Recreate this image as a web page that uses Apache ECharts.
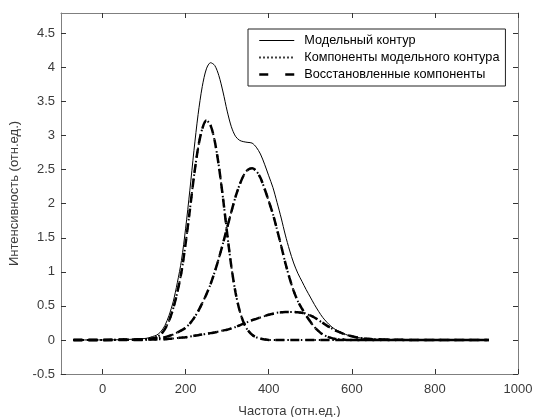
<!DOCTYPE html>
<html>
<head>
<meta charset="utf-8">
<script src="https://cdn.jsdelivr.net/npm/echarts@6/dist/echarts.min.js"></script>
<style>
  html, body { margin: 0; padding: 0; background: #fff; }
  #chart { width: 535px; height: 417px; }
</style>
</head>
<body>
<div id="chart"></div>
<script>
  // частоты (отн.ед.)
  const freq = [-70, 0, 50,
    100, 110, 120, 130, 140, 150, 160, 170, 180, 190,
    200, 210, 220, 230, 240, 250, 260, 270, 280, 290,
    300, 310, 320, 330, 340, 350, 360, 370, 380, 390,
    400, 410, 420, 430, 440, 450, 460, 470, 480, 490,
    500, 510, 520, 530, 540, 550, 560, 570, 580, 590,
    600, 610, 620, 630, 640, 650,
    700, 750, 800, 850, 930]

  const modelContour = [0, 0, 0.005,
    0.02, 0.03, 0.05, 0.07, 0.12, 0.21, 0.36, 0.56, 0.84, 1.17,
    1.64, 2.19, 2.78, 3.31, 3.72, 3.98, 4.07, 4.03, 3.88, 3.64,
    3.36, 3.13, 2.99, 2.93, 2.91, 2.9, 2.89, 2.83, 2.73, 2.58,
    2.41, 2.24, 2.02, 1.79, 1.54, 1.32, 1.13, 0.98, 0.86, 0.74,
    0.63, 0.52, 0.42, 0.33, 0.26, 0.2, 0.155, 0.125, 0.095, 0.07,
    0.055, 0.04, 0.03, 0.022, 0.016, 0.012,
    0.004, 0, 0, 0, 0]

  const comp1 = [0, 0, 0,
    0, 0.01, 0.02, 0.04, 0.08, 0.16, 0.28, 0.46, 0.7, 1.0,
    1.42, 1.9, 2.4, 2.82, 3.1, 3.22, 3.15, 2.92, 2.55, 2.08,
    1.56, 1.08, 0.7, 0.43, 0.25, 0.14, 0.075, 0.04, 0.02, 0.008,
    0, 0, 0, 0, 0, 0, 0, 0, 0, 0,
    0, 0, 0, 0, 0, 0, 0, 0, 0, 0,
    0, 0, 0, 0, 0, 0,
    0, 0, 0, 0, 0]

  const comp2 = [0, 0, 0.005,
    0.01, 0.015, 0.02, 0.025, 0.03, 0.04, 0.06, 0.08, 0.11, 0.14,
    0.18, 0.24, 0.32, 0.42, 0.54, 0.67, 0.82, 1.0, 1.2, 1.42,
    1.65, 1.88, 2.1, 2.28, 2.42, 2.5, 2.52, 2.48, 2.38, 2.22,
    2.04, 1.85, 1.62, 1.38, 1.13, 0.91, 0.72, 0.57, 0.46, 0.36,
    0.27, 0.19, 0.13, 0.08, 0.05, 0.03, 0.015, 0.01, 0.005, 0,
    0, 0, 0, 0, 0, 0,
    0, 0, 0, 0, 0]

  const comp3 = [0, 0, 0.002,
    0.005, 0.006, 0.007, 0.008, 0.009, 0.01, 0.016, 0.022, 0.028, 0.034,
    0.04, 0.05, 0.06, 0.07, 0.08, 0.09, 0.1, 0.11, 0.125, 0.14,
    0.15, 0.17, 0.19, 0.215, 0.24, 0.265, 0.29, 0.31, 0.33, 0.35,
    0.37, 0.385, 0.4, 0.405, 0.41, 0.41, 0.41, 0.405, 0.4, 0.38,
    0.36, 0.33, 0.29, 0.25, 0.21, 0.175, 0.14, 0.115, 0.09, 0.07,
    0.055, 0.04, 0.03, 0.022, 0.016, 0.012,
    0.004, 0, 0, 0, 0]

  const xTicks = [0, 200, 400, 600, 800, 1000]
  const yTicks = [-0.5, 0, 0.5, 1, 1.5, 2, 2.5, 3, 3.5, 4, 4.5]

  const NAME_TOTAL = 'Модельный контур'
  const NAME_COMP = 'Компоненты модельного контура'
  const NAME_REST = 'Восстановленные компоненты'

  const FONT = '"Liberation Sans", Arial, sans-serif'
  const AXIS_COLOR = '#7f7f7f'
  const TEXT_COLOR = '#3a3a3a'

  function pairs(ys) {
    return freq.map((x, i) => [x, ys[i]])
  }

  function lineSeries(name, ys, lineStyle, z) {
    return {
      name: name,
      type: 'line',
      data: pairs(ys),
      symbol: 'none',
      showSymbol: false,
      smooth: 0.3,
      animation: false,
      silent: true,
      z: z,
      itemStyle: {color: '#000'},
      lineStyle: Object.assign({color: '#000'}, lineStyle)
    }
  }

  const dotted = {width: 2, type: [1.5, 3]}
  const dashed = {width: 2.5, type: [9, 6]}

  const plain = (v) => String(v)

  const myChart = echarts.init(document.getElementById('chart'))
  const option = {
    backgroundColor: '#fff',
    animation: false,
    textStyle: {fontFamily: FONT},
    grid: {left: 61, right: 17, top: 13, bottom: 43, containLabel: false, outerBoundsMode: 'none'},
    legend: {
      orient: 'vertical',
      left: 248,
      top: 29,
      padding: [5, 6, 5, 10],
      itemWidth: 35,
      itemHeight: 12,
      itemGap: 4,
      borderColor: '#222',
      borderWidth: 1,
      backgroundColor: '#fff',
      selectedMode: false,
      itemStyle: {opacity: 0},
      textStyle: {fontFamily: FONT, fontSize: 12.7, color: '#000', padding: [0, 0, 0, 5]},
      data: [
        {name: NAME_TOTAL, lineStyle: {color: '#000', width: 1, type: 'solid'}},
        {name: NAME_COMP, lineStyle: {color: '#000', width: 2, type: [1.5, 2.5]}},
        {name: NAME_REST, lineStyle: {color: '#000', width: 2.5, type: [9, 17], dashOffset: 0}}
      ]
    },
    xAxis: [{
      type: 'value',
      min: -100,
      max: 1000,
      position: 'bottom',
      name: 'Частота (отн.ед.)',
      nameLocation: 'middle',
      nameGap: 31,
      nameTextStyle: {fontFamily: FONT, fontSize: 13, color: TEXT_COLOR},
      axisLine: {show: true, onZero: false, lineStyle: {color: AXIS_COLOR, width: 1}},
      axisTick: {show: true, inside: true, length: 5, customValues: xTicks, lineStyle: {color: '#333'}},
      axisLabel: {customValues: xTicks, formatter: plain, color: TEXT_COLOR, fontFamily: FONT, fontSize: 13, margin: 9},
      splitLine: {show: false}
    }, {
      type: 'value',
      min: -100,
      max: 1000,
      position: 'top',
      axisLine: {show: true, onZero: false, lineStyle: {color: AXIS_COLOR, width: 1}},
      axisTick: {show: true, inside: true, length: 5, customValues: xTicks, lineStyle: {color: '#333'}},
      axisLabel: {show: false, customValues: xTicks},
      splitLine: {show: false}
    }],
    yAxis: [{
      type: 'value',
      min: -0.5,
      max: 4.8,
      position: 'left',
      name: 'Интенсивность (отн.ед.)',
      nameLocation: 'middle',
      nameGap: 40,
      nameTextStyle: {fontFamily: FONT, fontSize: 13, color: TEXT_COLOR},
      axisLine: {show: true, onZero: false, lineStyle: {color: AXIS_COLOR, width: 1}},
      axisTick: {show: true, inside: true, length: 5, customValues: yTicks, lineStyle: {color: '#333'}},
      axisLabel: {customValues: yTicks, formatter: plain, color: TEXT_COLOR, fontFamily: FONT, fontSize: 13, margin: 6},
      splitLine: {show: false}
    }, {
      type: 'value',
      min: -0.5,
      max: 4.8,
      position: 'right',
      axisLine: {show: true, onZero: false, lineStyle: {color: AXIS_COLOR, width: 1}},
      axisTick: {show: true, inside: true, length: 5, customValues: yTicks, lineStyle: {color: '#333'}},
      axisLabel: {show: false, customValues: yTicks},
      splitLine: {show: false}
    }],
    series: [
      lineSeries(NAME_TOTAL, modelContour, {width: 1, type: 'solid'}, 5),
      lineSeries(NAME_COMP, comp1, dotted, 3),
      lineSeries(NAME_COMP, comp2, dotted, 3),
      lineSeries(NAME_COMP, comp3, dotted, 3),
      lineSeries(NAME_REST, comp1, dashed, 4),
      lineSeries(NAME_REST, comp2, dashed, 4),
      lineSeries(NAME_REST, comp3, dashed, 4)
    ]
  }
  myChart.setOption(option)
</script>
</body>
</html>
